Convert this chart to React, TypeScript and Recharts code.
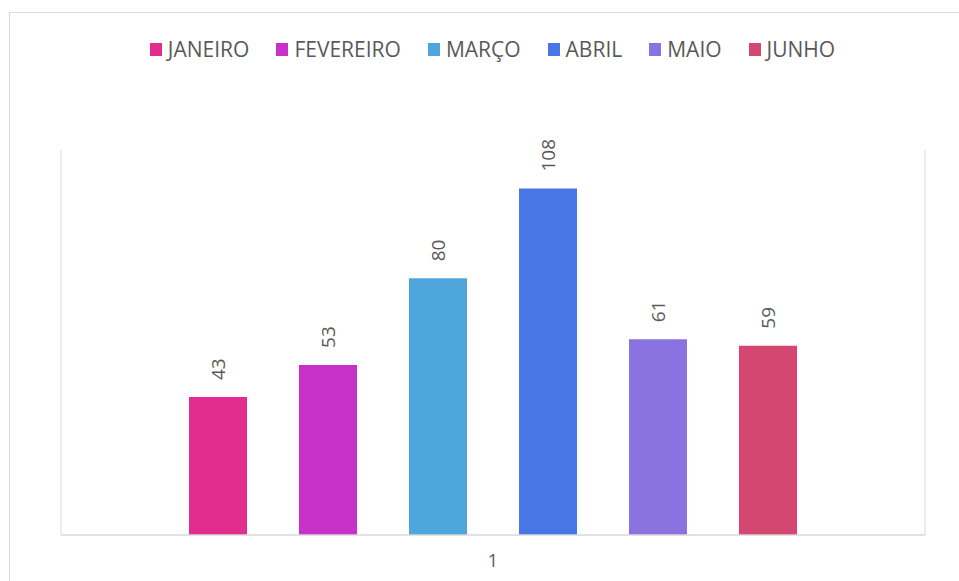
import React from 'react';
import { ComposedChart, Bar, XAxis, YAxis, Legend, LabelList } from 'recharts';

const categories = ['1'];
const months = ['JANEIRO', 'FEVEREIRO', 'MARÇO', 'ABRIL', 'MAIO', 'JUNHO'];
const values = [43, 53, 80, 108, 61, 59];
const colors = ['#E32D8E', '#C730C9', '#4FA6DC', '#4876E6', '#8A73E0', '#D44771'];

const data = categories.map((c) => {
  const row: Record<string, any> = { name: c };
  months.forEach((m, i) => {
    row[m] = values[i];
  });
  return row;
});

const FONT = '"Open Sans", "DejaVu Sans", sans-serif';
const TEXT = '#595959';
const LINE = '#d9d9d9';

const renderLegend = (props: any) => {
  const payload = [...(props.payload || [])].sort(
    (a: any, b: any) => months.indexOf(a.value) - months.indexOf(b.value)
  );
  return (
    <div
      style={{
        display: 'flex',
        justifyContent: 'center',
        alignItems: 'center',
        height: 28,
        fontFamily: FONT,
        fontSize: 21,
        color: TEXT,
      }}
    >
      {payload.map((p: any, i: number) => (
        <div key={i} style={{ display: 'flex', alignItems: 'center', marginRight: i < payload.length - 1 ? 27 : 0 }}>
          <div style={{ width: 12, height: 13, background: p.color, marginRight: 6 }} />
          <span>{p.value}</span>
        </div>
      ))}
    </div>
  );
};

const renderLabel = (props: any) => {
  const { x, y, width, value } = props;
  const cx = Number(x) + Number(width) / 2;
  const cy = Number(y) - 17;
  return (
    <text
      x={cx}
      y={cy}
      transform={`rotate(-90 ${cx} ${cy})`}
      textAnchor="start"
      dy="0.35em"
      fill={TEXT}
      fontFamily={FONT}
      fontSize={19}
    >
      {value}
    </text>
  );
};

export default function App() {
  return (
    <div style={{ position: 'absolute', left: 0, top: 0, width: 959, height: 581, overflow: 'hidden', background: '#fff' }}>
      <div
        style={{
          position: 'absolute',
          left: 9,
          top: 12,
          width: 960,
          height: 600,
          border: `1px solid ${LINE}`,
          boxSizing: 'border-box',
        }}
      />
      <div style={{ position: 'absolute', left: 0, top: 0 }}>
        <ComposedChart
          width={959}
          height={581}
          data={data}
          margin={{ top: 122, right: 33, bottom: 0, left: 60 }}
          barSize={58}
          barGap={52}
        >
          <XAxis
            dataKey="name"
            tickLine={false}
            tickSize={0}
            tickMargin={19}
            height={46}
            axisLine={{ stroke: LINE, strokeWidth: 1.5 }}
            tick={{ fill: TEXT, fontSize: 18, fontFamily: FONT }}
          />
          <YAxis
            yAxisId="left"
            width={1}
            domain={[0, 120]}
            tick={false}
            tickLine={false}
            axisLine={{ stroke: LINE }}
          />
          <YAxis
            yAxisId="right"
            orientation="right"
            width={1}
            domain={[0, 120]}
            tick={false}
            tickLine={false}
            axisLine={{ stroke: LINE }}
          />
          <Legend
            verticalAlign="top"
            content={renderLegend}
            wrapperStyle={{ top: 35, left: 0, width: 985 }}
          />
          {months.map((m, i) => (
            <Bar key={m} yAxisId="left" dataKey={m} fill={colors[i]} isAnimationActive={false}>
              <LabelList dataKey={m} content={renderLabel} />
            </Bar>
          ))}
        </ComposedChart>
      </div>
    </div>
  );
}
